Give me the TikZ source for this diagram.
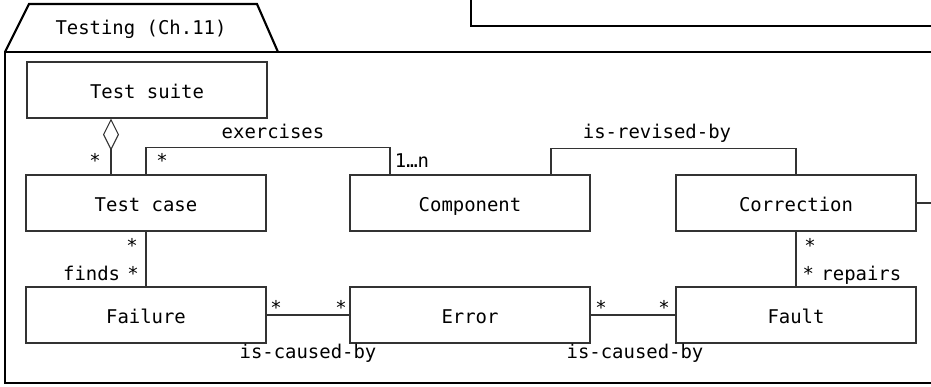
\documentclass[tikz,border=0pt]{standalone}
\usepackage{fontspec}
\setmonofont{DejaVu Sans Mono}
\usepackage{tikz}
\usetikzlibrary{arrows.meta}
\newcommand{\umlfont}{\ttfamily\fontsize{14.2}{17}\selectfont}

\begin{document}
\begin{tikzpicture}[x=0.75pt,y=-0.75pt,
  cls/.style={draw=black!80,line width=0.8pt,minimum width=180pt,minimum height=42pt,
              inner sep=0pt,font=\umlfont,text height=12.8pt,text depth=0pt},
  lab/.style={font=\umlfont,anchor=base,inner sep=0pt},
  pkg/.style={line width=1.6pt},
  e/.style={draw=black!80,line width=0.8pt}]

\useasboundingbox (0,0) rectangle (931,386);
\clip (0,0) rectangle (931,386);

% ---- package frame and tab ----
\draw[pkg] (5,52) rectangle (1000,383);
\draw[pkg] (5,52) -- (29,4) -- (257,4) -- (278,52);
\node[lab] (tab) at (141,34) {Testing (Ch.11)};
\draw[pkg] (471,-20) rectangle (1000,26);

% ---- classes ----
\node[cls] (suite) at (147,90) {Test suite};
\node[cls] (tcase) at (146,203) {Test case};
\node[cls] (comp) at (470,203) {Component};
\node[cls] (corr) at (796,203) {Correction};
\node[cls] (fail) at (146,315) {Failure};
\node[cls] (err) at (470,315) {Error};
\node[cls] (fault) at (796,315) {Fault};
\coordinate (offright) at (960,203);

% ---- associations ----
\draw[e,{Diamond[open,length=24pt,width=12pt]}-] ([xshift=-27pt]suite.south) -- ([xshift=-26.25pt]tcase.north);
\draw[e] (tcase.north) -- ++(0,-27) -| ([xshift=-60pt]comp.north);
\draw[e] ([xshift=60.75pt]comp.north) -- ++(0,-26) -| (corr.north);
\draw[e] (corr.east) -- (offright);
\draw[e] (tcase.south) -- (fail.north);
\draw[e] (corr.south) -- (fault.north);
\draw[e] (fail) -- (err);
\draw[e] (err) -- (fault);

% ---- labels ----
\node[lab] (m1) at (95,167) {*};
\node[lab] (m2) at (162,167) {*};
\node[lab] (m3) at (412,167) {1…n};
\node[lab] (exlab) at (273,138) {exercises};
\node[lab] (revlab) at (657,138) {is-revised-by};
\node[lab] (m4) at (132,252) {*};
\node[lab] (finds) at (101,280) {finds\kern-3pt\ *};
\node[lab] (m9) at (810,252) {*};
\node[lab] (rep) at (852,280) {*\kern-3pt\ repairs};
\node[lab] (m5) at (276,314) {*};
\node[lab] (m6) at (341,314) {*};
\node[lab] (m7) at (601,314) {*};
\node[lab] (m8) at (664,314) {*};
\node[lab] (cause1) at (308,358) {is-caused-by};
\node[lab] (cause2) at (635,358) {is-caused-by};
\end{tikzpicture}
\end{document}
